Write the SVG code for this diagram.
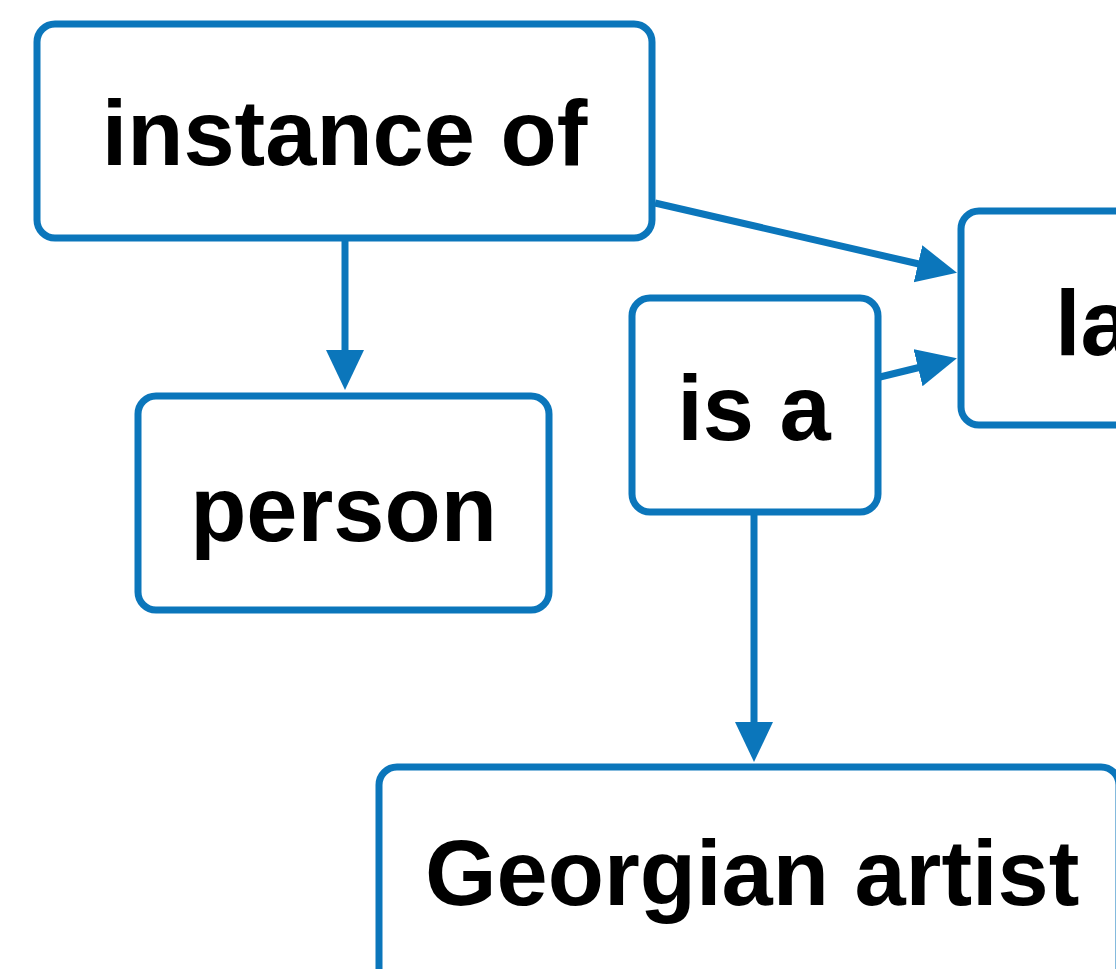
<svg xmlns="http://www.w3.org/2000/svg" width="1116" height="969" viewBox="0 0 1116 969">
<style>
.box{fill:#fff;stroke:#0B76BB;stroke-width:7}
.lbl{font-family:"Liberation Sans",Arial,sans-serif;font-weight:bold;font-size:92px;fill:#000}
.edge{stroke:#0B76BB;stroke-width:7;fill:none}
</style>
<defs>
<marker id="ah" markerUnits="userSpaceOnUse" markerWidth="42" markerHeight="40" refX="1" refY="19" orient="auto" viewBox="0 0 42 40">
<path d="M0,0 L40,19 L0,38 z" fill="#0B76BB"/>
</marker>
</defs>
<rect width="1116" height="969" fill="#fff"/>
<g id="connectors">
<line class="edge" x1="345" y1="240" x2="345" y2="351" marker-end="url(#ah)"/>
<line class="edge" x1="655" y1="203" x2="919" y2="264" marker-end="url(#ah)"/>
<line class="edge" x1="880" y1="377" x2="919" y2="367.5" marker-end="url(#ah)"/>
<line class="edge" x1="754" y1="514" x2="754" y2="723" marker-end="url(#ah)"/>
</g>
<g id="node-instance-of">
<rect class="box" x="37" y="24" width="615" height="214" rx="18"/>
<text class="lbl" x="344.5" y="165" text-anchor="middle">instance of</text>
</g>
<g id="node-person">
<rect class="box" x="138" y="396" width="411" height="214" rx="18"/>
<text class="lbl" x="343.5" y="541" text-anchor="middle">person</text>
</g>
<g id="node-is-a">
<rect class="box" x="632" y="298" width="246" height="214" rx="18"/>
<text class="lbl" x="754" y="440" text-anchor="middle">is a</text>
</g>
<g id="node-la">
<rect class="box" x="961" y="211" width="400" height="214" rx="18"/>
<text class="lbl" x="1055" y="355">la</text>
</g>
<g id="node-georgian-artist">
<rect class="box" x="379" y="767" width="740" height="260" rx="18"/>
<text class="lbl" x="425" y="905">Georgian artist</text>
</g>
</svg>
